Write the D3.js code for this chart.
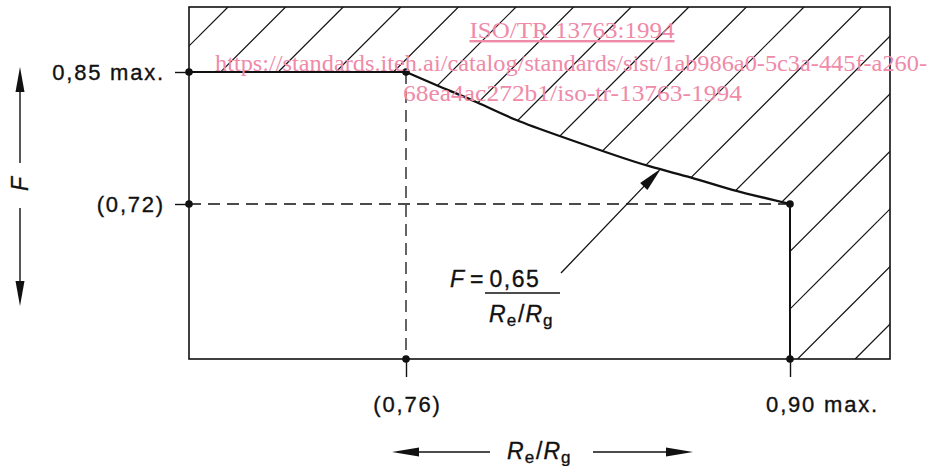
<!DOCTYPE html>
<html>
<head>
<meta charset="utf-8">
<script src="https://cdn.jsdelivr.net/npm/d3@7"></script>
<style>
body{margin:0;background:#fff;}
svg{display:block;}
</style>
</head>
<body>
<div id="my_dataviz"></div>
<script>
// values
var curveRe = [0.76, 0.772, 0.786, 0.80, 0.816, 0.833, 0.849, 0.864, 0.879, 0.90];
var curveF  = [0.85, 0.836, 0.820, 0.803, 0.787, 0.771, 0.757, 0.746, 0.734, 0.72];
var xTicks = [0.76, 0.90];
var xTickLabels = ["(0,76)", "0,90 max."];
var yTicks = [0.85, 0.72];
var yTickLabels = ["0,85 max.", "(0,72)"];
var leaderTip = [0.853, 0.755];
var watermark = ["ISO/TR 13763:1994",
    "https://standards.iteh.ai/catalog/standards/sist/1ab986a0-5c3a-445f-a260-",
    "68ea4ac272b1/iso-tr-13763-1994"];

var W = 931, H = 466;
var L = 189, R = 890, T = 7, B = 359;
var SANS = "'Liberation Sans',Arial,Helvetica,sans-serif";
var SERIF = "'Liberation Serif','Times New Roman',serif";
var INK = "#111";

var svg = d3.select("#my_dataviz").append("svg")
    .attr("width", W)
    .attr("height", H)
    .style("font-family", SANS);

var x = d3.scaleLinear().domain([0.76, 0.90]).range([406, 790]);
var y = d3.scaleLinear().domain([0.72, 0.85]).range([204, 72]);

var pts = curveRe.map(function(d, i){ return [d, curveF[i]]; });
var line = d3.line()
    .x(function(d){ return x(d[0]); })
    .y(function(d){ return y(d[1]); })
    .curve(d3.curveNatural);

// hatched (forbidden) region, bounded by the same curve
var curvePath = line(pts);
var region = "M" + L + "," + T + "L" + L + "," + y(yTicks[0]) + "L" +
    curvePath.slice(1) + "L" + x(xTicks[1]) + "," + B + "L" + R + "," + B + "L" + R + "," + T + "Z";

svg.append("clipPath")
    .attr("id", "hatchClip")
    .append("path")
    .attr("d", region);

svg.append("g")
    .attr("clip-path", "url(#hatchClip)")
    .selectAll("line")
    .data(d3.range(177.4, 1260, 57.6))
    .enter().append("line")
    .attr("x1", function(c){ return c - B; })
    .attr("y1", B)
    .attr("x2", function(c){ return c - T; })
    .attr("y2", T)
    .style("stroke", INK)
    .style("stroke-width", 1.2);

// frame
svg.append("rect")
    .attr("x", L).attr("y", T)
    .attr("width", R - L).attr("height", B - T)
    .style("fill", "none")
    .style("stroke", INK)
    .style("stroke-width", 1.6);

// dashed guides
svg.append("line")
    .attr("x1", x(xTicks[0])).attr("y1", y(yTicks[0]))
    .attr("x2", x(xTicks[0])).attr("y2", B)
    .style("stroke", INK).style("stroke-width", 1.3)
    .style("stroke-dasharray", "12,7");
svg.append("line")
    .attr("x1", L).attr("y1", y(yTicks[1]))
    .attr("x2", x(xTicks[1])).attr("y2", y(yTicks[1]))
    .style("stroke", INK).style("stroke-width", 1.3)
    .style("stroke-dasharray", "12,7");

// boundary: flat top, curve, vertical limit
svg.append("line")
    .attr("x1", L).attr("y1", y(yTicks[0]))
    .attr("x2", x(xTicks[0])).attr("y2", y(yTicks[0]))
    .style("stroke", INK).style("stroke-width", 2);
svg.append("path")
    .attr("d", curvePath)
    .style("fill", "none")
    .style("stroke", INK)
    .style("stroke-width", 2.3);
svg.append("line")
    .attr("x1", x(xTicks[1])).attr("y1", y(yTicks[1]))
    .attr("x2", x(xTicks[1])).attr("y2", B)
    .style("stroke", INK).style("stroke-width", 2);

// axes
var yAxis = svg.append("g")
    .attr("transform", "translate(" + L + ",0)")
    .call(d3.axisLeft(y).tickValues(yTicks)
        .tickFormat(function(d, i){ return yTickLabels[i]; })
        .tickSize(14).tickPadding(10));
var xAxis = svg.append("g")
    .attr("transform", "translate(0," + B + ")")
    .call(d3.axisBottom(x).tickValues(xTicks)
        .tickFormat(function(d, i){ return xTickLabels[i]; })
        .tickSize(18).tickPadding(19));
[yAxis, xAxis].forEach(function(ax){
    ax.select(".domain").remove();
    ax.selectAll("line").style("stroke", INK).style("stroke-width", 1.4);
    ax.selectAll("text")
        .style("font-family", SANS)
        .style("font-size", "22px")
        .style("letter-spacing", "1.8px")
        .style("fill", INK)
        .style("stroke", INK)
        .style("stroke-width", 0.35);
});
xAxis.selectAll("text").attr("dx", function(d, i){ return i == 1 ? 32 : 1; });

// dots
var dots = [[L, y(yTicks[0])], [x(xTicks[0]), y(yTicks[0])], [L, y(yTicks[1])],
    [x(xTicks[1]), y(yTicks[1])], [x(xTicks[0]), B], [x(xTicks[1]), B]];
svg.selectAll("circle.pt")
    .data(dots)
    .enter().append("circle")
    .attr("class", "pt")
    .attr("cx", function(d){ return d[0]; })
    .attr("cy", function(d){ return d[1]; })
    .attr("r", 3.8)
    .style("fill", INK);

function arrowHead(tip, ang, len, half){
    var c = Math.cos(ang), s = Math.sin(ang);
    var bx = tip[0] - c * len, by = tip[1] - s * len;
    return "M" + tip[0] + "," + tip[1] +
        "L" + (bx - s * half) + "," + (by + c * half) +
        "L" + (bx + s * half) + "," + (by - c * half) + "Z";
}

// F axis title with arrows
var g = svg.append("g");
g.append("line").attr("x1", 20).attr("y1", 90).attr("x2", 20).attr("y2", 163)
    .style("stroke", INK).style("stroke-width", 1.4);
g.append("line").attr("x1", 20).attr("y1", 208).attr("x2", 20).attr("y2", 284)
    .style("stroke", INK).style("stroke-width", 1.4);
g.append("path").attr("d", arrowHead([20, 67], -Math.PI / 2, 25, 4.5)).style("fill", INK);
g.append("path").attr("d", arrowHead([20, 306], Math.PI / 2, 25, 4.5)).style("fill", INK);
g.append("text")
    .attr("transform", "translate(28,184) rotate(-90)")
    .attr("text-anchor", "middle")
    .style("font-size", "23px")
    .style("font-style", "italic")
    .style("fill", INK).style("stroke", INK).style("stroke-width", 0.35)
    .text("F");

// Re/Rg axis title with arrows
g.append("line").attr("x1", 418).attr("y1", 452).attr("x2", 490).attr("y2", 452)
    .style("stroke", INK).style("stroke-width", 1.4);
g.append("line").attr("x1", 593).attr("y1", 452).attr("x2", 668).attr("y2", 452)
    .style("stroke", INK).style("stroke-width", 1.4);
g.append("path").attr("d", arrowHead([392, 452], Math.PI, 27, 4.5)).style("fill", INK);
g.append("path").attr("d", arrowHead([693, 452], 0, 27, 4.5)).style("fill", INK);

function ratioLabel(sel, x0, y0){
    var t = sel.append("text")
        .attr("x", x0).attr("y", y0)
        .style("font-size", "23px")
        .style("fill", INK).style("stroke", INK).style("stroke-width", 0.35);
    t.append("tspan").style("font-style", "italic").text("R");
    t.append("tspan").attr("dy", 4).attr("dx", 1).style("font-size", "17px").text("e");
    t.append("tspan").attr("dy", -4).attr("dx", 2).text("/");
    t.append("tspan").attr("dx", 1).style("font-style", "italic").text("R");
    t.append("tspan").attr("dy", 4).attr("dx", 1).style("font-size", "17px").text("g");
    return t;
}
ratioLabel(g, 507, 459);

// formula label and leader
var f = svg.append("g");
var ft = f.append("text").attr("x", 450).attr("y", 287)
    .style("font-size", "23px")
    .style("fill", INK).style("stroke", INK).style("stroke-width", 0.35);
ft.append("tspan").style("font-style", "italic").text("F");
ft.append("tspan").attr("dx", 6).text("=");
ft.append("tspan").attr("dx", 6).style("letter-spacing", "1.5px").text("0,65");
f.append("line").attr("x1", 485).attr("y1", 293).attr("x2", 560).attr("y2", 293)
    .style("stroke", INK).style("stroke-width", 1.4);
ratioLabel(f, 489, 322);

var tip = [x(leaderTip[0]), y(leaderTip[1])];
var ang = Math.atan2(tip[1] - 273, tip[0] - 561);
f.append("line").attr("x1", 561).attr("y1", 273)
    .attr("x2", tip[0] - Math.cos(ang) * 20).attr("y2", tip[1] - Math.sin(ang) * 20)
    .style("stroke", INK).style("stroke-width", 1.3);
f.append("path").attr("d", arrowHead(tip, ang, 25, 5)).style("fill", INK);

// watermark
var wm = svg.append("g");
wm.selectAll("text")
    .data(watermark)
    .enter().append("text")
    .attr("x", function(d, i){ return [572, 215, 403][i]; })
    .attr("y", function(d, i){ return [38, 71, 101][i]; })
    .attr("text-anchor", function(d, i){ return i == 0 ? "middle" : "start"; })
    .attr("textLength", function(d, i){ return [205, 712, 339][i]; })
    .attr("lengthAdjust", "spacingAndGlyphs")
    .style("font-family", SERIF)
    .style("font-size", "24px")
    .style("fill", "#ef8aa8")
    .style("text-decoration", function(d, i){ return i == 0 ? "underline" : "none"; })
    .text(function(d){ return d; });
</script>
</body>
</html>
